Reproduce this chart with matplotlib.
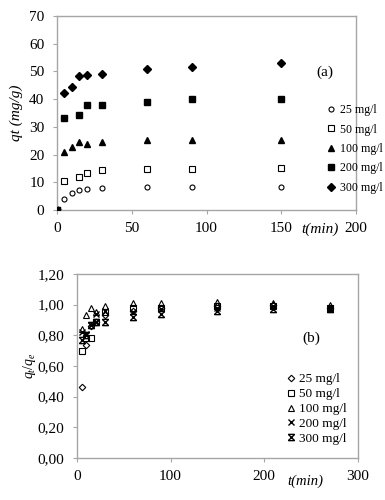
import numpy as np
import matplotlib
matplotlib.use("Agg")
import matplotlib.pyplot as plt
from matplotlib.path import Path

plt.rcParams["font.family"] = ["Liberation Serif", "DejaVu Serif"]
plt.rcParams["mathtext.fontset"] = "custom"
plt.rcParams["mathtext.it"] = "Liberation Serif:italic"
plt.rcParams["mathtext.rm"] = "Liberation Serif"

# (a) qt vs time
t_a = [0, 5, 10, 15, 20, 30, 60, 90, 150]
t_a_200 = [0, 5, 15, 20, 30, 60, 90, 150]
t_a_50 = [0, 5, 15, 20, 30, 60, 90, 150]
q_25 = [0, 3.9, 6.0, 7.1, 7.6, 7.9, 8.2, 8.2, 8.2]
q_50 = [0, 10.6, 12.0, 13.4, 14.3, 14.7, 14.7, 15.0]
q_100 = [0, 20.8, 22.9, 24.7, 23.8, 24.5, 25.3, 25.3, 25.3]
q_200 = [0, 33.1, 34.3, 37.8, 37.8, 38.9, 40.0, 40.2]
q_300 = [0, 42.1, 44.5, 48.4, 48.7, 49.1, 50.9, 51.5, 52.9]

# (b) qt/qe vs time
t_b = [5, 10, 15, 20, 30, 60, 90, 150, 210, 270]
r_25 = [0.46, 0.74, 0.86, 0.89, 0.93, 0.96, 0.98, 0.99, 1.00, 0.98]
r_50 = [0.70, 0.78, 0.78, 0.89, 0.95, 0.98, 0.98, 0.99, 0.99, 0.98]
r_100 = [0.84, 0.93, 0.98, 0.95, 0.99, 1.01, 1.01, 1.02, 1.01, 1.00]
r_200 = [0.82, 0.81, 0.87, 0.94, 0.96, 0.95, 0.97, 0.98, 0.99, 0.98]
r_300 = [0.77, 0.80, 0.87, 0.89, 0.89, 0.92, 0.94, 0.96, 0.97, 0.97]

labels = ["25 mg/l", "50 mg/l", "100 mg/l", "200 mg/l", "300 mg/l"]

spine_c = "#a6a6a6"

# excel-like star marker: x with bars top and bottom
star = Path([(-1, -1), (1, 1), (-1, 1), (1, -1), (-1, 1), (1, 1), (-1, -1), (1, -1)],
            [Path.MOVETO, Path.LINETO, Path.MOVETO, Path.LINETO,
             Path.MOVETO, Path.LINETO, Path.MOVETO, Path.LINETO])

fig = plt.figure(figsize=(3.85, 5.0), dpi=100)

def style(ax):
    for s in ax.spines.values():
        s.set_color(spine_c)
        s.set_linewidth(1.0)
    ax.tick_params(direction="out", length=3, color=spine_c, labelsize=11, pad=6)

# ---- panel a
ax1 = fig.add_axes([0.148, 0.58, 0.777, 0.388])
ax1.plot(t_a, q_25, "o", ms=3.6, mfc="white", mec="black", mew=0.8, ls="none", label=labels[0])
ax1.plot(t_a_50, q_50, "s", ms=3.8, mfc="white", mec="black", mew=0.8, ls="none", label=labels[1])
ax1.plot(t_a, q_100, "^", ms=4.8, color="black", ls="none", label=labels[2])
ax1.plot(t_a_200, q_200, "s", ms=4.2, color="black", ls="none", label=labels[3], zorder=4)
ax1.plot(t_a, q_300, "D", ms=4.0, color="black", ls="none", label=labels[4])
ax1.set_xlim(0, 200)
ax1.set_ylim(0, 70)
ax1.set_xticks([0, 50, 100, 150, 200])
ax1.set_yticks(np.arange(0, 71, 10))
style(ax1)
ax1.set_ylabel("qt (mg/g)", fontstyle="italic", fontsize=11)
ax1.yaxis.set_label_coords(-0.115, 0.5)
ax1.text(0.895, 0.71, "(a)", transform=ax1.transAxes, ha="center", va="center", fontsize=11)
fig.text(320 / 385, 1 - 229 / 500, "t(min)", fontstyle="italic", fontsize=11, ha="center", va="center")
ax1.legend(loc="center left", bbox_to_anchor=(327 / 385, 1 - 149 / 500), bbox_transform=fig.transFigure,
           frameon=False, fontsize=8.6, handlelength=0.7, handletextpad=0.4, labelspacing=0.62,
           borderpad=0, borderaxespad=0)

# ---- panel b
ax2 = fig.add_axes([0.2, 0.084, 0.729, 0.368])
ax2.plot(t_b, r_25, "D", ms=3.3, mfc="none", mec="black", mew=0.8, ls="none", label=labels[0])
ax2.plot(t_b, r_50, "s", ms=4.2, mfc="none", mec="black", mew=0.8, ls="none", label=labels[1])
ax2.plot(t_b, r_100, "^", ms=5.0, mfc="none", mec="black", mew=0.8, ls="none", label=labels[2])
ax2.plot(t_b, r_200, "x", ms=4.5, color="black", mew=1.0, ls="none", label=labels[3])
ax2.plot(t_b, r_300, marker=star, ms=4.5, color="black", mfc="none", mew=1.0, ls="none", label=labels[4])
ax2.set_xlim(0, 300)
ax2.set_ylim(0, 1.2)
ax2.set_xticks([0, 100, 200, 300])
ax2.set_yticks(np.arange(0, 1.21, 0.2))
ax2.set_yticklabels([f"{v:.2f}".replace(".", ",") for v in np.arange(0, 1.21, 0.2)])
style(ax2)
ax2.set_ylabel("$q_t/q_e$", fontsize=10)
ax2.yaxis.set_label_coords(-0.14, 0.5)
ax2.text(311 / 385, 1 - 338 / 500, "(b)", transform=fig.transFigure, ha="center", va="center", fontsize=11)
fig.text(305 / 385, 1 - 481 / 500, "t(min)", fontstyle="italic", fontsize=10.5, ha="center", va="center")
ax2.legend(loc="center left", bbox_to_anchor=(287 / 385, 1 - 409 / 500), bbox_transform=fig.transFigure,
           frameon=False, fontsize=9.5, handlelength=0.6, handletextpad=0.3, labelspacing=0.2,
           borderpad=0, borderaxespad=0)

fig.savefig("out.png", dpi=100)
